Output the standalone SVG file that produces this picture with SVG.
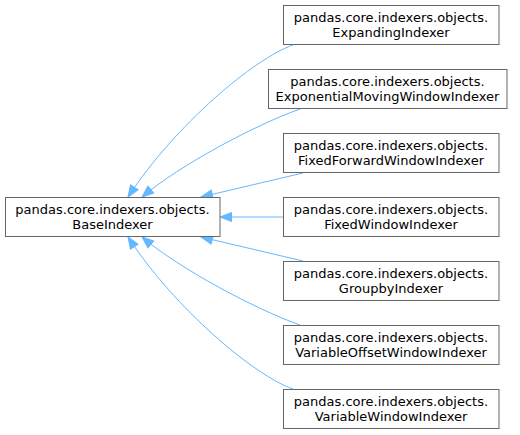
<svg xmlns="http://www.w3.org/2000/svg" width="520" height="435" viewBox="0 0 520 435">
<defs>
<style>
.node rect{fill:#ffffff;stroke:#666666;stroke-width:1}
.node text{font-family:"DejaVu Sans",sans-serif;font-size:13px;fill:#000000;text-anchor:middle}
.edge path{fill:none;stroke:#63b8ff;stroke-width:1}
</style>
<marker id="ah" markerUnits="userSpaceOnUse" markerWidth="14" markerHeight="12" refX="12.5" refY="6" orient="auto">
<path d="M1,1.5 L12.5,6 L1,10.5 Z" fill="#63b8ff" stroke="#63b8ff" stroke-width="1"/>
</marker>
</defs>
<rect width="520" height="435" fill="#ffffff"/>
<g id="edges" class="edge">
<path d="M293,45 C255,58 175,125 128,197" marker-end="url(#ah)"/>
<path d="M300,109 C255,125 180,165 142,197" marker-end="url(#ah)"/>
<path d="M303,173 L201,197" marker-end="url(#ah)"/>
<path d="M283,217 L220,217" marker-end="url(#ah)"/>
<path d="M303,261 L201,237" marker-end="url(#ah)"/>
<path d="M300,325 C255,309 180,269 142,237" marker-end="url(#ah)"/>
<path d="M293,389 C255,376 175,309 128,237" marker-end="url(#ah)"/>
</g>
<g id="BaseIndexer" class="node">
<rect x="5.5" y="197.5" width="214.5" height="39"/>
<text x="112.5" y="214">pandas.core.indexers.objects.</text>
<text x="112.5" y="228.5">BaseIndexer</text>
</g>
<g id="ExpandingIndexer" class="node">
<rect x="283.5" y="5.5" width="215.5" height="39"/>
<text x="391" y="22">pandas.core.indexers.objects.</text>
<text x="391" y="36.5">ExpandingIndexer</text>
</g>
<g id="ExponentialMovingWindowIndexer" class="node">
<rect x="268.5" y="69.5" width="238.5" height="39"/>
<text x="387.5" y="86">pandas.core.indexers.objects.</text>
<text x="387.5" y="100.5">ExponentialMovingWindowIndexer</text>
</g>
<g id="FixedForwardWindowIndexer" class="node">
<rect x="283.5" y="133.5" width="215.5" height="39"/>
<text x="391" y="150">pandas.core.indexers.objects.</text>
<text x="391" y="164.5">FixedForwardWindowIndexer</text>
</g>
<g id="FixedWindowIndexer" class="node">
<rect x="283.5" y="197.5" width="215.5" height="39"/>
<text x="391" y="214">pandas.core.indexers.objects.</text>
<text x="391" y="228.5">FixedWindowIndexer</text>
</g>
<g id="GroupbyIndexer" class="node">
<rect x="283.5" y="261.5" width="215.5" height="39"/>
<text x="391" y="278">pandas.core.indexers.objects.</text>
<text x="391" y="292.5">GroupbyIndexer</text>
</g>
<g id="VariableOffsetWindowIndexer" class="node">
<rect x="283.5" y="325.5" width="215.5" height="39"/>
<text x="391" y="342">pandas.core.indexers.objects.</text>
<text x="391" y="356.5">VariableOffsetWindowIndexer</text>
</g>
<g id="VariableWindowIndexer" class="node">
<rect x="283.5" y="389.5" width="215.5" height="39"/>
<text x="391" y="406">pandas.core.indexers.objects.</text>
<text x="391" y="420.5">VariableWindowIndexer</text>
</g>
</svg>
